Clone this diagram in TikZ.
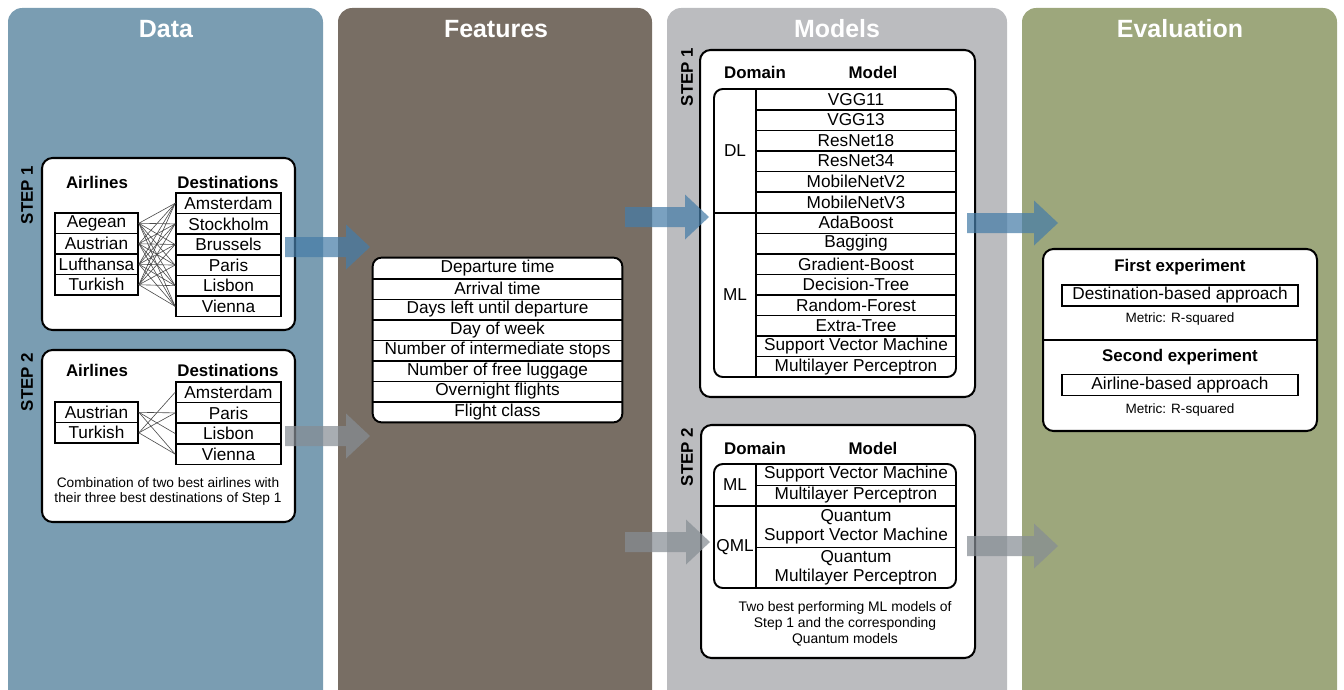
\documentclass[tikz,border=0pt]{standalone}
\usepackage{fontspec}
\setmainfont{Liberation Sans}
\definecolor{datac}{RGB}{122,157,178}
\definecolor{featc}{RGB}{120,110,100}
\definecolor{modc}{RGB}{187,188,191}
\definecolor{evalc}{RGB}{157,167,124}
\definecolor{arrb}{RGB}{70,125,168}
\definecolor{arrg}{RGB}{134,141,148}
\def\U{0.02cm}
\newcommand\barrow[5]{% name, x, y, length, colour
  \coordinate (#1) at (#2,#3);
  \fill[#5, opacity=0.72] (#1) ++(0,-10) -- ++({#4-24},0) -- ++(0,-12.5) -- ++(24,22.5) -- ++(-24,22.5) -- ++(0,-12.5) -- ++({24-#4},0) -- cycle;}
\tikzset{
  title/.style={text=white, font=\fontsize{14.2pt}{17pt}\selectfont\bfseries},
  hdr/.style={font=\fontsize{9.6pt}{11pt}\selectfont\bfseries},
  steplbl/.style={font=\fontsize{9.6pt}{11pt}\selectfont\bfseries, rotate=90},
  rbox/.style={draw, fill=white, line width=1.15pt, rounded corners=6pt, inner sep=0pt},
  cell/.style={draw, line width=1pt, inner sep=0pt, font=\fontsize{9.8pt}{11pt}\selectfont},
  row/.style={inner sep=0pt, font=\fontsize{9.8pt}{11pt}\selectfont, align=center},
  tbl/.style={draw, line width=1.1pt, rounded corners=5pt, inner sep=0pt},
  rule/.style={line width=0.8pt},
  link/.style={line width=0.35pt, black!70},
  small/.style={font=\fontsize{7.8pt}{8.6pt}\selectfont, align=center},
  tiny/.style={font=\fontsize{7.7pt}{8.6pt}\selectfont},
}
\begin{document}
\begin{tikzpicture}[x=0.02cm, y=-0.02cm]
\useasboundingbox (0,0) rectangle (1344,689);
% panels
\begin{scope}
\clip (0,0) rectangle (1344,689);
\fill[datac, rounded corners=8pt] (8,8) rectangle (323,730);
\fill[featc, rounded corners=8pt] (338,8) rectangle (652,730);
\fill[modc, rounded corners=8pt] (667,8) rectangle (1007,730);
\fill[evalc, rounded corners=8pt] (1022,8) rectangle (1337,730);
\end{scope}
\node[title] (tdata) at (166,29) {Data};
\node[title] (tfeat) at (496,29) {Features};
\node[title] (tmod) at (837,29) {Models};
\node[title] (teval) at (1180,29) {Evaluation};

% ---------------- Data step 1
\node[steplbl] (ds1) at (27,195) {STEP 1};
\node[rbox, minimum width=253*\U, minimum height=172*\U] (d1box) at (168.5,244) {};
\node[hdr] (d1air) at (97,182) {Airlines};
\node[hdr] (d1dst) at (228,182) {Destinations};
\foreach \n/\t [count=\i from 0] in {aeg/Aegean,aus/Austrian,luf/Lufthansa,tur/Turkish}
  \node[cell, minimum width=83*\U, minimum height=20.5*\U] (\n) at (96.5,{223.25+20.5*\i}) {\t};
\foreach \n/\t [count=\i from 0] in {ams/Amsterdam,sto/Stockholm,bru/Brussels,par/Paris,lis/Lisbon,vie/Vienna}
  \node[cell, minimum width=105*\U, minimum height=20.6*\U] (\n) at (228.5,{203.3+20.6*\i}) {\t};
\foreach \a in {aeg,aus,luf,tur}
  \foreach \d in {ams,sto,bru,par,lis,vie}
    \draw[link] (\a.east) -- (\d.west);

% ---------------- Data step 2
\node[steplbl] (ds2) at (27,382) {STEP 2};
\node[rbox, minimum width=253*\U, minimum height=172*\U] (d2box) at (168.5,436) {};
\node[hdr] (d2air) at (97,370) {Airlines};
\node[hdr] (d2dst) at (228,370) {Destinations};
\node[cell, minimum width=83*\U, minimum height=20.5*\U] (aus2) at (96.5,412.3) {Austrian};
\node[cell, minimum width=83*\U, minimum height=20.5*\U] (tur2) at (96.5,432.8) {Turkish};
\foreach \n/\t [count=\i from 0] in {ams2/Amsterdam,par2/Paris,lis2/Lisbon,vie2/Vienna}
  \node[cell, minimum width=105*\U, minimum height=20.6*\U] (\n) at (228.5,{392.3+20.6*\i}) {\t};
\foreach \d in {par2,lis2,vie2} \draw[link] (aus2.east) -- (\d.west);
\foreach \d in {ams2,par2,vie2} \draw[link] (tur2.east) -- (\d.west);
\node[small] (d2cap) at (168,491.5) {Combination of two best airlines with\\their three best destinations of Step 1};

% ---------------- Features
\foreach \i in {1,...,8}
  \coordinate (fc\i) at (497.5,{247.75+20.5*\i});
\fill[white, rounded corners=5pt] (373,258) rectangle (622,422);
\foreach \t [count=\i] in {Departure time,Arrival time,Days left until departure,Day of week,Number of intermediate stops,Number of free luggage,Overnight flights,Flight class}
  \node[row, minimum width=249*\U, minimum height=20.5*\U] (f\i) at (fc\i) {\t};
\foreach \i in {1,...,7} \draw[rule] (f\i.south west) -- (f\i.south east);
\draw[line width=1.1pt, rounded corners=5pt] (f1.north west) rectangle (f8.south east);

% ---------------- Models step 1
\node[steplbl] (ms1) at (687,77) {STEP 1};
\node[rbox, minimum width=275*\U, minimum height=347*\U] (m1box) at (837.5,223.5) {};
\node[hdr] (m1dom) at (755,72) {Domain};
\node[hdr] (m1mod) at (873,72) {Model};
\node[tbl, minimum width=242*\U, minimum height=288*\U] (t1) at (835,233) {};
\foreach \t [count=\i] in {VGG11,VGG13,ResNet18,ResNet34,MobileNetV2,MobileNetV3,AdaBoost,Bagging,Gradient-Boost,Decision-Tree,Random-Forest,Extra-Tree,Support Vector Machine,Multilayer Perceptron}
  \node[row, minimum width=200*\U, minimum height=20.571*\U] (m\i) at (856,{78.71+20.571*\i}) {\t};
\foreach \i in {1,2,3,4,5,7,8,9,10,11,12,13} \draw[rule] (m\i.south west) -- (m\i.south east);
\draw[line width=1pt] (t1.west |- m6.south) -- (m6.south east);
\draw[line width=1pt] (m1.north west) -- (m14.south west);
\node[row] (dl) at (735,150.7) {DL};
\node[row] (ml1) at (735,294.7) {ML};

% ---------------- Models step 2
\node[steplbl] (ms2) at (687,457) {STEP 2};
\node[rbox, minimum width=274*\U, minimum height=233*\U] (m2box) at (838,541.5) {};
\node[hdr] (m2dom) at (755,448) {Domain};
\node[hdr] (m2mod) at (873,448) {Model};
\node[tbl, minimum width=242*\U, minimum height=124*\U] (t2) at (835,526) {};
\node[row, minimum width=200*\U, minimum height=21*\U] (q1) at (856,474.5) {Support Vector Machine};
\node[row, minimum width=200*\U, minimum height=21*\U] (q2) at (856,495.5) {Multilayer Perceptron};
\node[row, minimum width=200*\U, minimum height=41*\U] (q3) at (856,526.5) {Quantum\\Support Vector Machine};
\node[row, minimum width=200*\U, minimum height=41*\U] (q4) at (856,567.5) {Quantum\\Multilayer Perceptron};
\draw[rule] (q1.south west) -- (q1.south east);
\draw[rule] (q3.south west) -- (q3.south east);
\draw[line width=1pt] (t2.west |- q2.south) -- (q2.south east);
\draw[line width=1pt] (q1.north west) -- (q4.south west);
\node[row] (ml2) at (735,485) {ML};
\node[row] (qml) at (735,547) {QML};
\node[small, font=\fontsize{7.9pt}{9.1pt}\selectfont] (m2cap) at (845,624) {Two best performing ML models of\\Step 1 and the corresponding\\Quantum models};

% ---------------- Evaluation
\node[rbox, minimum width=274*\U, minimum height=182*\U] (ev) at (1180,340) {};
\draw[line width=1pt] (ev.west) -- (ev.east);
\node[hdr] (e1) at (1180,267) {First experiment};
\node[cell, line width=0.9pt, minimum width=236*\U, minimum height=21*\U] (e1a) at (1180,295.5) {Destination-based approach};
\node[tiny] (e1m) at (1180,319) {Metric: R-squared};
\node[hdr] (e2) at (1180,357) {Second experiment};
\node[cell, line width=0.9pt, minimum width=236*\U, minimum height=21*\U] (e2a) at (1180,385) {Airline-based approach};
\node[tiny] (e2m) at (1180,410) {Metric: R-squared};

% ---------------- arrows
\barrow{a1}{285}{247}{85}{arrb}
\barrow{a2}{285}{436}{85}{arrg}
\barrow{a3}{625}{217}{84}{arrb}
\barrow{a4}{967}{223}{91}{arrb}
\barrow{a5}{625}{542}{85}{arrg}
\barrow{a6}{967}{546}{91}{arrg}
\end{tikzpicture}
\end{document}
